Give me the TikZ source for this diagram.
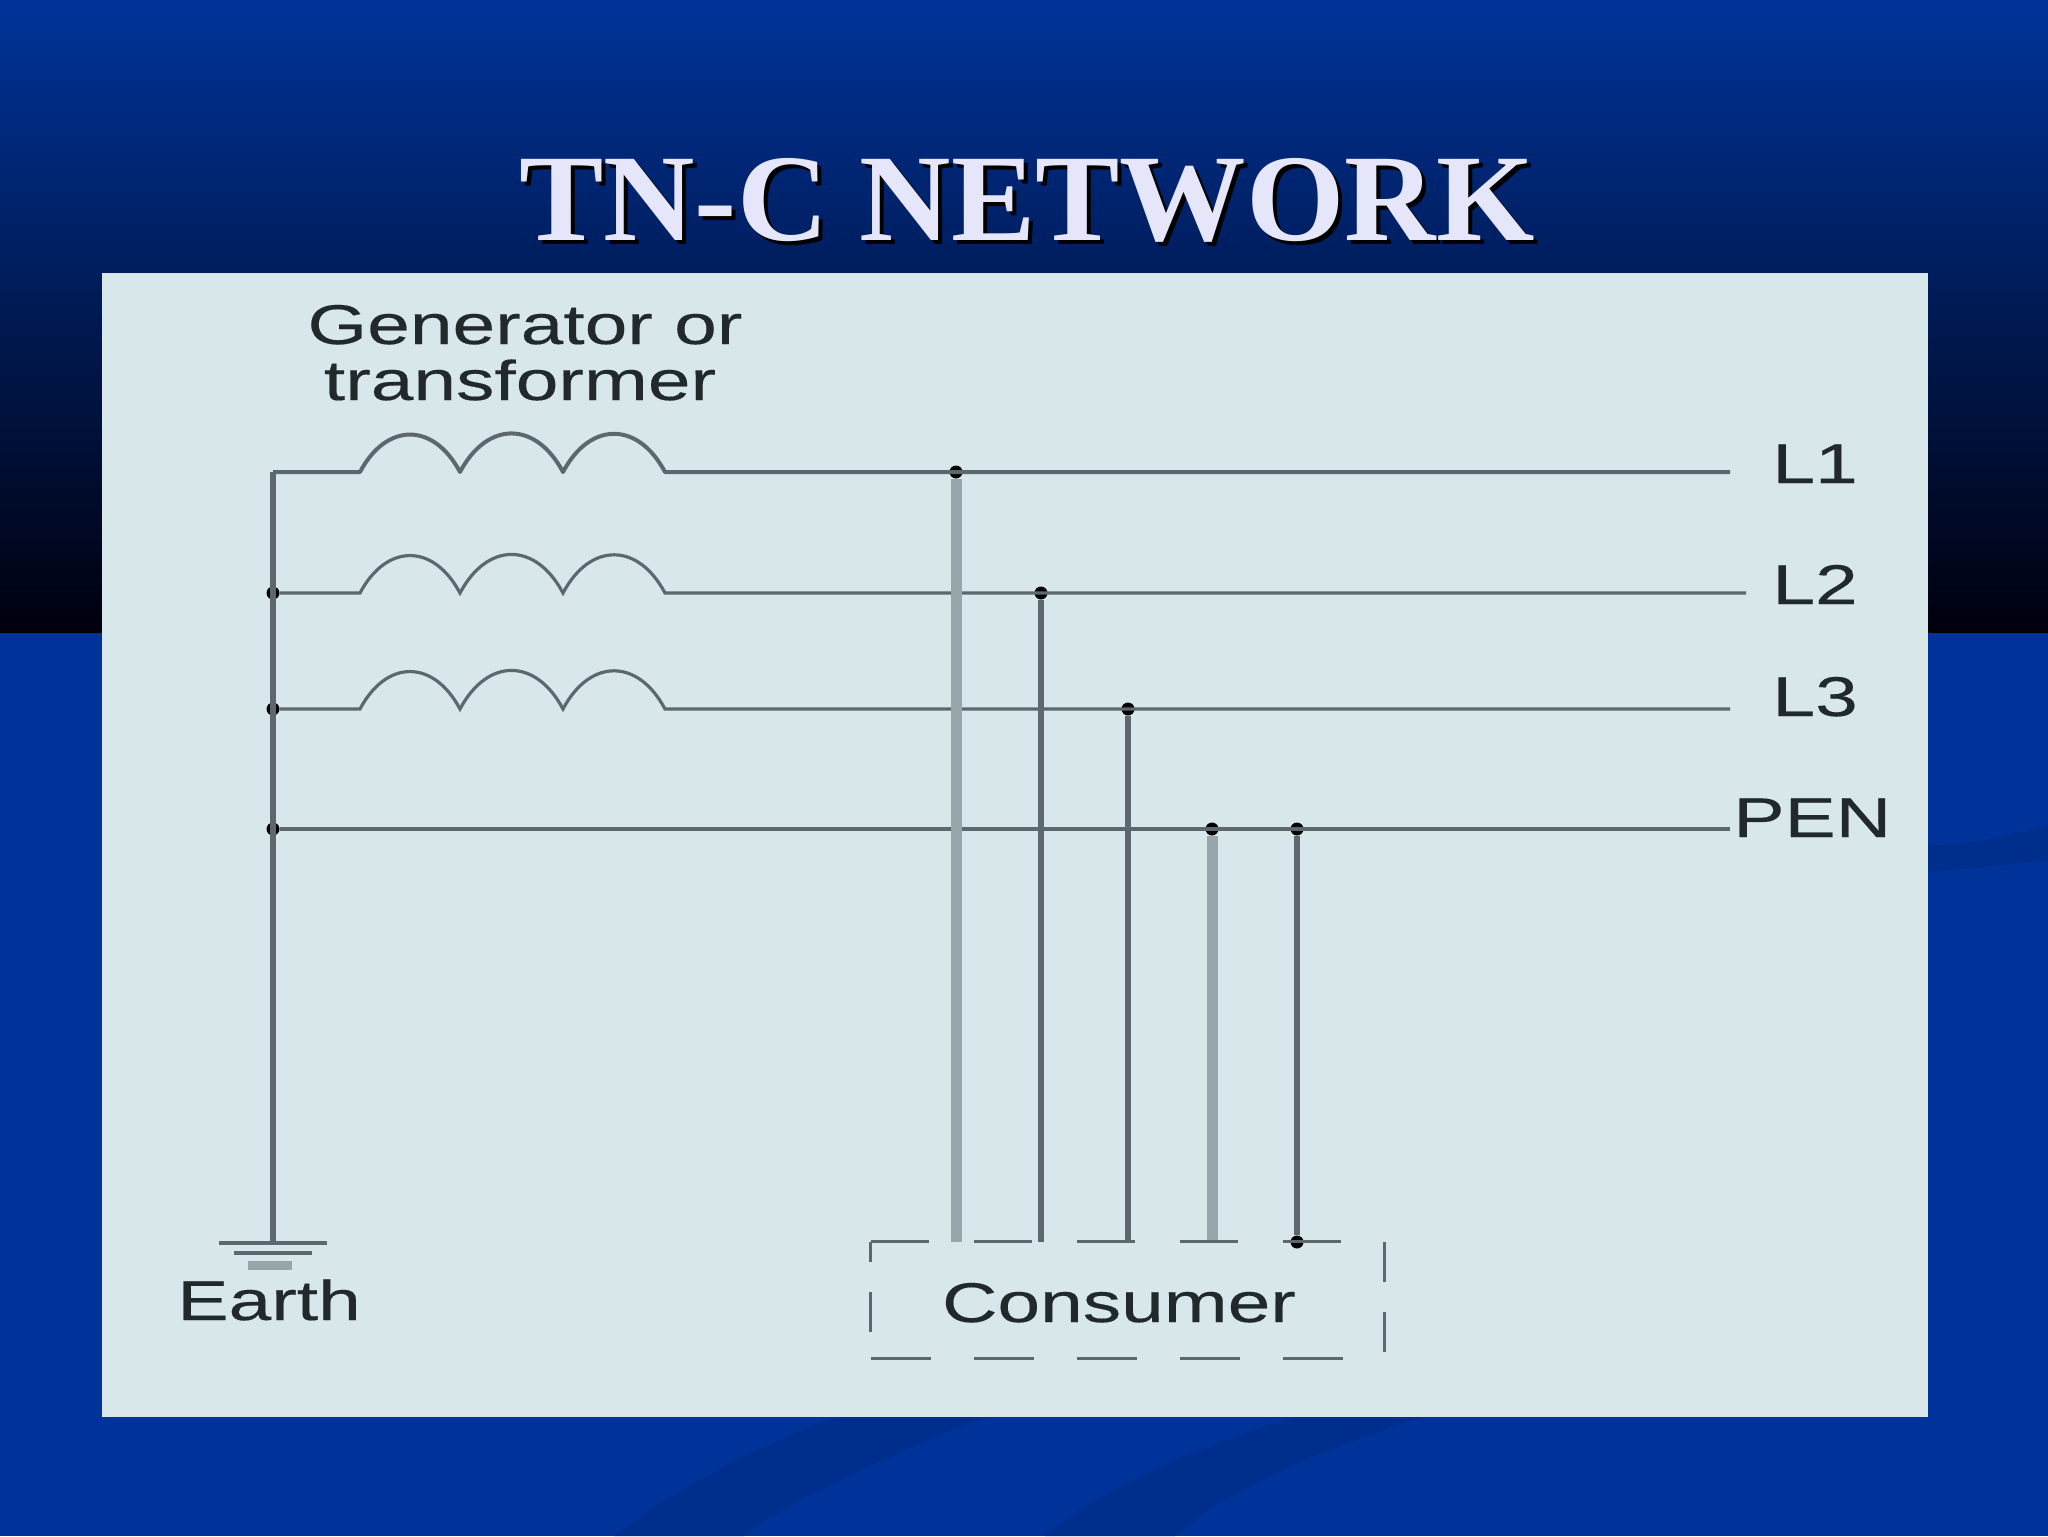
\documentclass[tikz,border=0pt]{standalone}
\usepackage{fontspec}
\newfontfamily\labelfont[FakeStretch=1.37,FakeBold=0.3]{Liberation Sans}
\newfontfamily\titlefont[FakeStretch=1.02]{Liberation Serif}
\usetikzlibrary{positioning}
\definecolor{slideblue}{HTML}{003399}
\definecolor{swoosh}{HTML}{002E8C}
\definecolor{panel}{HTML}{D8E8EA}
\definecolor{wire}{HTML}{5C686E}
\definecolor{paleline}{HTML}{97A6AA}
\definecolor{inktext}{HTML}{22292C}
\definecolor{titletext}{HTML}{E6E6FA}

\begin{document}
\begin{tikzpicture}[x=0.5pt, y=-0.5pt,
    wireline/.style={draw=wire, line width=2pt},
    thinline/.style={draw=wire, line width=1.6pt},
    paleriser/.style={draw=paleline, line width=5.5pt},
    darkriser/.style={draw=wire, line width=2.6pt},
    bump/.style={out=62, in=118, looseness=1.45},
    joint/.style={circle, fill=black, inner sep=0pt, minimum size=6.5pt},
    lbl/.style={font=\labelfont\fontsize{28}{30}\selectfont, text=inktext, inner sep=0pt},
    head/.style={font=\titlefont\bfseries\fontsize{62}{66}\selectfont, inner sep=0pt, anchor=base}]
    \useasboundingbox (0,0) rectangle (2048,1536);

    % Slide background
    \fill [slideblue] (0,0) rectangle (2048,1536);
    \shade [top color=slideblue, bottom color=black!95!blue] (0,0) rectangle (2048,632);
    \fill [swoosh] (986,1417) .. controls (900,1450) and (790,1500) .. (744,1536) -- (614,1536) .. controls (670,1490) and (770,1440) .. (836,1417) -- cycle;
    \fill [swoosh] (1423,1417) .. controls (1350,1440) and (1240,1480) .. (1175,1536) -- (1045,1536) .. controls (1110,1480) and (1220,1440) .. (1293,1417) -- cycle;
    \fill [swoosh] (1928,845) .. controls (1970,845) and (2010,835) .. (2048,825) -- (2048,860) .. controls (2010,865) and (1970,868) .. (1928,872) -- cycle;

    % Title and panel
    \node [head, text=black] (titleshadow) at (1031,244) {TN-C NETWORK};
    \node [head, text=titletext] (title) at (1027,240) {TN-C NETWORK};
    \fill [panel] (102,273) rectangle (1928,1417);

    % Nodes
    \node [lbl, anchor=base] (gen)   at (525,344)  {Generator or};
    \node [lbl, anchor=base] (trans) at (520,400)  {transformer};
    \node [lbl, anchor=base west] (lone)   at (1772,483) {L1};
    \node [lbl, anchor=base west] (ltwo)   at (1772,604) {L2};
    \node [lbl, anchor=base west] (lthree) at (1772,716) {L3};
    \node [lbl, anchor=base west] (pen)    at (1733,837) {PEN};
    \node [lbl, anchor=base west] (earth)  at (177,1320) {Earth};
    \node [lbl, anchor=base] (consumer) at (1119,1322) {Consumer};
    \node [minimum width=256.5pt, minimum height=58pt, inner sep=0pt] (box) at (1127.5,1300) {};

    \coordinate (top)  at (273,472);
    \coordinate (gnd)  at (273,1243);
    \node [joint] (jtwo)   at (273,593) {};
    \node [joint] (jthree) at (273,709) {};
    \node [joint] (jpen)   at (273,829) {};

    \coordinate (lonea)   at (360,472);
    \coordinate (ltwoa)   at (360,593);
    \coordinate (lthreea) at (360,709);
    \coordinate (loneb)   at (665,472);
    \coordinate (ltwob)   at (665,593);
    \coordinate (lthreeb) at (665,709);
    \coordinate (lonec)   at (1730,472);
    \coordinate (ltwoc)   at (1746,593);
    \coordinate (lthreec) at (1730,709);
    \coordinate (penc)    at (1730,829);

    \node [joint] (tapone)   at (956,472)  {};
    \node [joint] (taptwo)   at (1041,593) {};
    \node [joint] (tapthree) at (1128,709) {};
    \node [joint] (tappen)   at (1212,829) {};
    \node [joint] (tapearth) at (1297,829) {};
    \node [joint] (tapend)   at (1297,1242) {};

    % Windings and lines
    \draw [wireline, line join=round] (top) -- (lonea) to [bump] ++(100,0) to [bump] ++(103,0) to [bump] (loneb) -- (lonec);
    \draw [thinline] (jtwo) -- (ltwoa) to [bump] ++(100,0) to [bump] ++(103,0) to [bump] (ltwob) -- (ltwoc);
    \draw [thinline] (jthree) -- (lthreea) to [bump] ++(100,0) to [bump] ++(103,0) to [bump] (lthreeb) -- (lthreec);
    \draw [wireline] (jpen) -- (penc);

    % Earth
    \draw [draw=wire, line width=3.2pt] (top) -- (gnd);
    \draw [thinline] (gnd) ++(-54,0) -- ++(108,0);
    \draw [thinline] (gnd) ++(-39,10) -- ++(78,0);
    \draw [draw=paleline, line width=4.5pt] (gnd) ++(-25,22) -- ++(44,0);

    % Risers
    \path [paleriser] (tapone) -- (tapone |- box.north);
    \path [darkriser] (taptwo) -- (taptwo |- box.north);
    \path [darkriser] (tapthree) -- (tapthree |- box.north);
    \path [paleriser] (tappen) -- (tappen |- box.north);
    \path [darkriser] (tapearth) -- (tapend);

    % Consumer box
    \draw [thinline, dash pattern=on 29pt off 22.5pt] (box.north west) -- (box.north east);
    \draw [thinline, dash pattern=on 30pt off 21.5pt] (box.south west) -- (box.south east);
    \draw [thinline, dash pattern=on 20pt off 15pt, dash phase=10pt] (box.north west) -- (box.south west);
    \draw [thinline, dash pattern=on 20pt off 15pt] (box.north east) -- (box.south east);
\end{tikzpicture}
\end{document}
